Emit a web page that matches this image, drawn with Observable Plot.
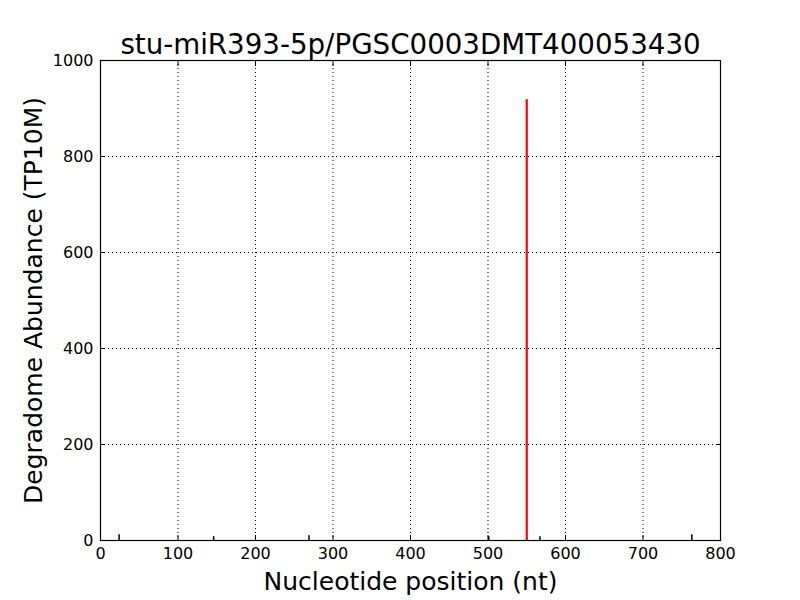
<!DOCTYPE html>
<html><head><meta charset="utf-8">
<script src="https://cdn.jsdelivr.net/npm/d3@7"></script>
<script src="https://cdn.jsdelivr.net/npm/@observablehq/plot@0.6"></script>
<style>body{margin:0;background:#fff;} svg{font-family:"DejaVu Sans",sans-serif;}</style>
</head><body><div id="chart"></div>
<script>
const title = "stu-miR393-5p/PGSC0003DMT400053430";
const positions = [24, 146, 269, 501, 567, 763];
const abundances = [12, 8, 10, 8, 8, 12];
const targetPosition = [550];
const targetAbundance = [918];
const xTicks = [0,100,200,300,400,500,600,700,800];
const yTicks = [0,200,400,600,800,1000];

const bg = positions.map((p,i)=>({x:p, y:abundances[i]}));
const tg = targetPosition.map((p,i)=>({x:p, y:targetAbundance[i]}));

const chart = Plot.plot({
  width: 800, height: 600,
  marginTop: 60, marginBottom: 60, marginLeft: 100, marginRight: 80,
  style: {fontFamily: "DejaVu Sans", fontSize: "16px", background: "#fff"},
  x: {domain: [0, 800]},
  y: {domain: [0, 1000]},
  marks: [
    Plot.gridX(xTicks, {stroke: "#000", strokeOpacity: 1, strokeDasharray: "1,3", strokeWidth: 1}),
    Plot.gridY(yTicks, {stroke: "#000", strokeOpacity: 1, strokeDasharray: "1,3", strokeWidth: 1}),
    Plot.ruleX(bg, {x: "x", y1: 0, y2: "y", stroke: "#000", strokeWidth: 1.5}),
    Plot.ruleX(tg, {x: "x", y1: 0, y2: "y", stroke: "#ff0000", strokeWidth: 2.2}),
    Plot.frame({stroke: "#000", strokeWidth: 1.2}),
    Plot.axisX(xTicks, {anchor: "bottom", tickSize: -5, tickPadding: 12, label: null, fontSize: 16, tickFormat: d => String(d)}),
    Plot.axisX(xTicks, {anchor: "top", tickSize: -5, tickFormat: () => "", label: null}),
    Plot.axisY(yTicks, {anchor: "left", tickSize: -5, tickPadding: 12, label: null, fontSize: 16, tickFormat: d => String(d)}),
    Plot.axisY(yTicks, {anchor: "right", tickSize: -5, tickFormat: () => "", label: null}),
    Plot.text([title], {frameAnchor: "top", dy: -7, fontSize: 27.7, lineAnchor: "bottom", textAnchor: "middle", fill: "#000"}),
    Plot.text(["Nucleotide position (nt)"], {frameAnchor: "bottom", dy: 49, fontSize: 25, textAnchor: "middle", fill: "#000"}),
    Plot.text(["Degradome Abundance (TP10M)"], {frameAnchor: "left", dx: -67, rotate: -90, fontSize: 25, textAnchor: "middle", fill: "#000"})
  ]
});
document.getElementById("chart").appendChild(chart);
</script>
</body></html>
